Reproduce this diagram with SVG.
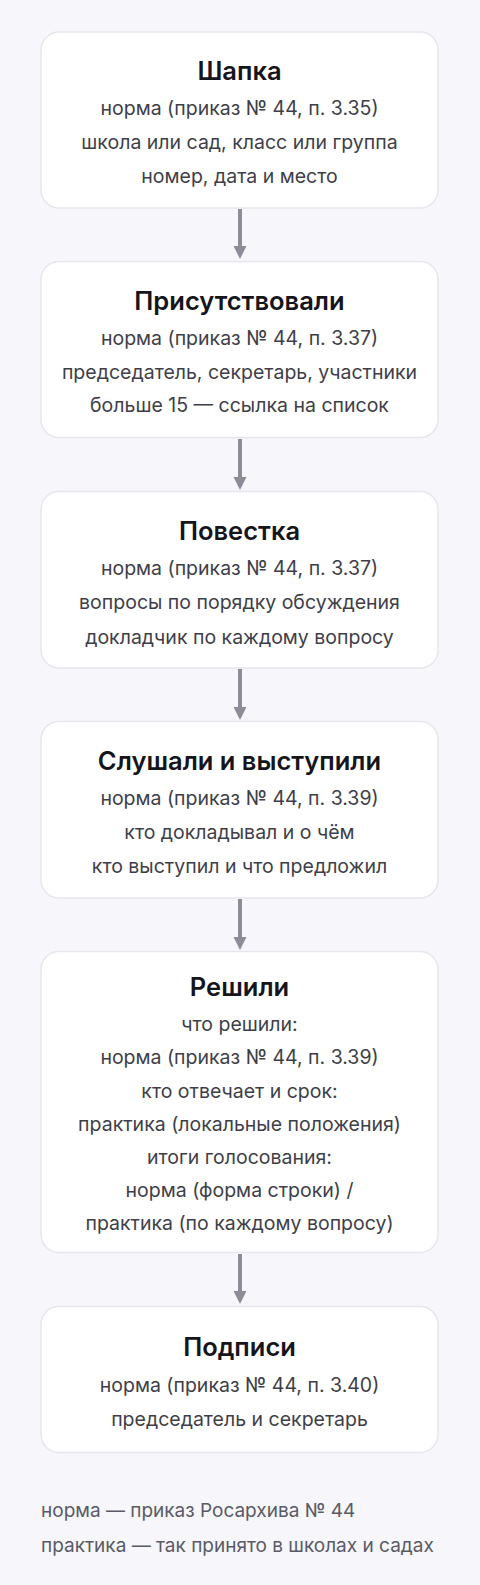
<svg xmlns="http://www.w3.org/2000/svg" width="480" height="1585" viewBox="0 0 480 1585">
<defs>
<style>
.bg{fill:#f6f6fb}
.box{fill:#ffffff;stroke:#e6e6ee;stroke-width:1.5}
.t{font-family:Inter,"Noto Sans",sans-serif;font-size:25.5px;font-weight:600;fill:#15151b;text-anchor:middle}
.s{font-family:Inter,"Noto Sans",sans-serif;font-size:19.5px;fill:#3e3e48;text-anchor:middle}
.l{font-family:Inter,"Noto Sans",sans-serif;font-size:19px;fill:#5a5a66}
.c{stroke:#8d8d99;stroke-width:4;fill:none}
.h{fill:#8d8d99}
</style>
</defs>
<rect class="bg" x="0" y="0" width="480" height="1585"/>
<g id="connectors">
<line class="c" x1="240" y1="209" x2="240" y2="247"/>
<path class="h" d="M233.5,246 L246.5,246 L240,259 Z"/>
<line class="c" x1="240" y1="439" x2="240" y2="478"/>
<path class="h" d="M233.5,477 L246.5,477 L240,490 Z"/>
<line class="c" x1="240" y1="669" x2="240" y2="708"/>
<path class="h" d="M233.5,707 L246.5,707 L240,720 Z"/>
<line class="c" x1="240" y1="899" x2="240" y2="938"/>
<path class="h" d="M233.5,937 L246.5,937 L240,950 Z"/>
<line class="c" x1="240" y1="1254" x2="240" y2="1292"/>
<path class="h" d="M233.5,1291 L246.5,1291 L240,1304 Z"/>
</g>
<g id="n1">
<rect class="box" x="41" y="32" width="397" height="176" rx="18"/>
<text class="t" x="239.5" y="80">Шапка</text>
<text class="s" x="239.5" y="115">норма (приказ № 44, п. 3.35)</text>
<text class="s" x="239.5" y="149">школа или сад, класс или группа</text>
<text class="s" x="239.5" y="183">номер, дата и место</text>
</g>
<g id="n2">
<rect class="box" x="41" y="261.5" width="397" height="176" rx="18"/>
<text class="t" x="239.5" y="310">Присутствовали</text>
<text class="s" x="239.5" y="345">норма (приказ № 44, п. 3.37)</text>
<text class="s" x="239.5" y="378.5">председатель, секретарь, участники</text>
<text class="s" x="239.5" y="412">больше 15 — ссылка на список</text>
</g>
<g id="n3">
<rect class="box" x="41" y="491.5" width="397" height="176.5" rx="18"/>
<text class="t" x="239.5" y="539.5">Повестка</text>
<text class="s" x="239.5" y="575">норма (приказ № 44, п. 3.37)</text>
<text class="s" x="239.5" y="609">вопросы по порядку обсуждения</text>
<text class="s" x="239.5" y="643.5">докладчик по каждому вопросу</text>
</g>
<g id="n4">
<rect class="box" x="41" y="721.5" width="397" height="176.5" rx="18"/>
<text class="t" x="239.5" y="769.5">Слушали и выступили</text>
<text class="s" x="239.5" y="805">норма (приказ № 44, п. 3.39)</text>
<text class="s" x="239.5" y="838.5">кто докладывал и о чём</text>
<text class="s" x="239.5" y="872.5">кто выступил и что предложил</text>
</g>
<g id="n5">
<rect class="box" x="41" y="951.5" width="397" height="301" rx="18"/>
<text class="t" x="239.5" y="995.5">Решили</text>
<text class="s" x="239.5" y="1031">что решили:</text>
<text class="s" x="239.5" y="1064">норма (приказ № 44, п. 3.39)</text>
<text class="s" x="239.5" y="1097.5">кто отвечает и срок:</text>
<text class="s" x="239.5" y="1130.5">практика (локальные положения)</text>
<text class="s" x="239.5" y="1163.5">итоги голосования:</text>
<text class="s" x="239.5" y="1197">норма (форма строки) /</text>
<text class="s" x="239.5" y="1230">практика (по каждому вопросу)</text>
</g>
<g id="n6">
<rect class="box" x="41" y="1306.5" width="397" height="146" rx="18"/>
<text class="t" x="239.5" y="1356">Подписи</text>
<text class="s" x="239.5" y="1391.5">норма (приказ № 44, п. 3.40)</text>
<text class="s" x="239.5" y="1425.5">председатель и секретарь</text>
</g>
<g id="legend">
<text class="l" x="41" y="1516.5">норма — приказ Росархива № 44</text>
<text class="l" x="41" y="1551.5">практика — так принято в школах и садах</text>
</g>
</svg>
